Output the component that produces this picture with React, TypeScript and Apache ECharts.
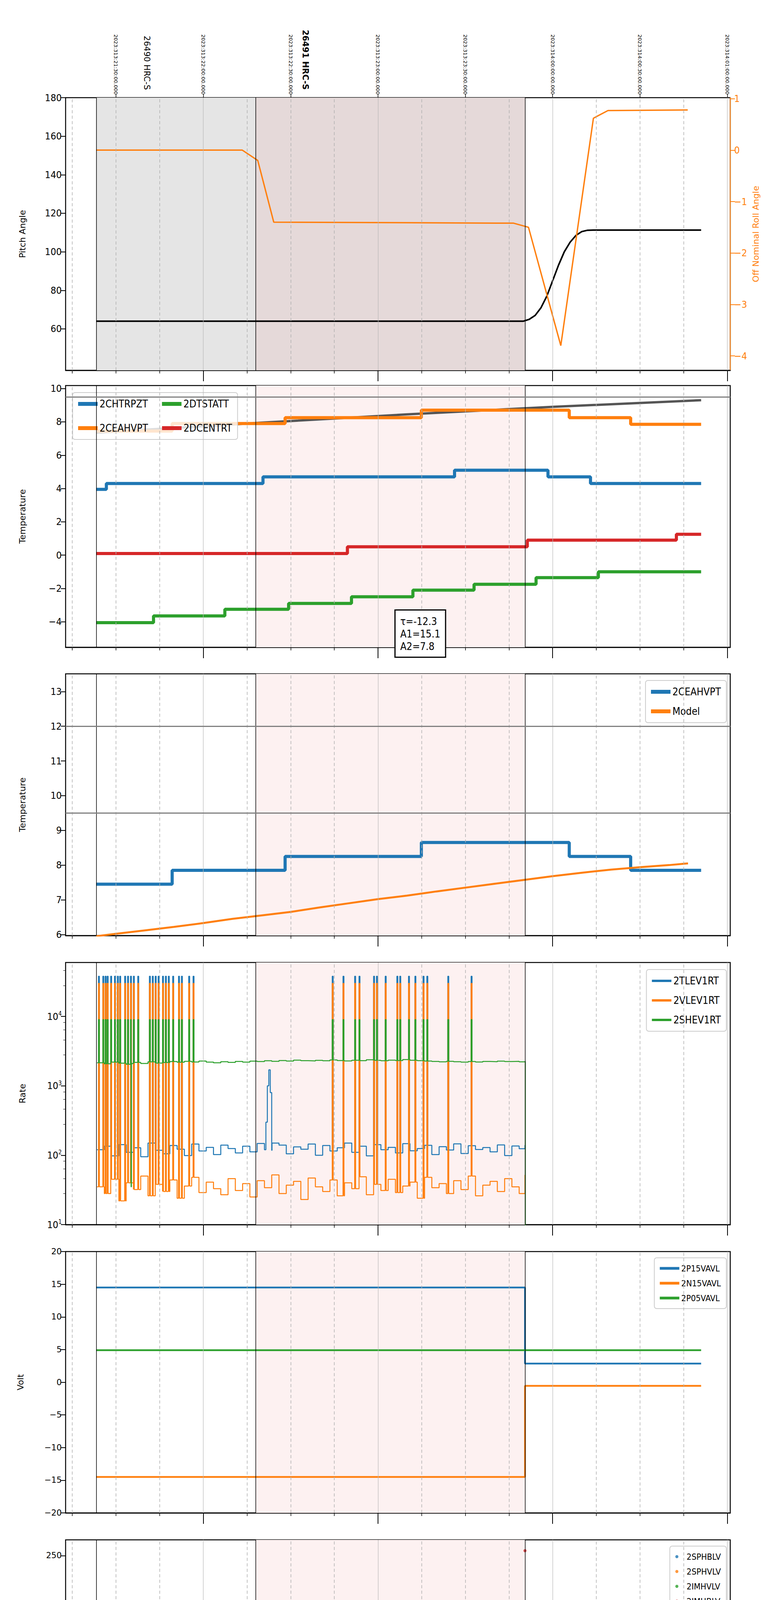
import { useEffect, useRef } from "react";
import * as echarts from "echarts";

// x is minutes after 16:00 local (2023-11-09)
const XMIN = 12.7;
const XMAX = 241;
const T_START = 23.2;
const T_OBS2 = 78;
const T_END = 170.5;

const MINOR_TICKS = [15, 30, 45, 75, 90, 105, 135, 150, 165, 195, 210, 225];
const HOUR_TICKS = [60, 120, 180, 240];
const HOUR_LABELS = ["17h", "18h", "19h", "20h"];
const DATE_TICKS = [30, 60, 90, 120, 150, 180, 210, 240];
const DATE_LABELS = [
  "2023:313:21:30:00.000", "2023:313:22:00:00.000", "2023:313:22:30:00.000", "2023:313:23:00:00.000",
  "2023:313:23:30:00.000", "2023:314:00:00:00.000", "2023:314:00:30:00.000", "2023:314:01:00:00.000",
];
const OBS_TICKS = [40.6, 95];
const OBS_LABELS = ["26490 HRC-S", "26491 HRC-S"];

// panel 1
const PITCH_T = [23.2, 170, 172, 174, 176, 178, 180, 182, 184, 186, 188, 190, 192, 194, 231];
const PITCH_V = [64, 64, 65, 67, 71, 77, 85, 93, 100, 105, 108.5, 110.5, 111.2, 111.3, 111.3];
const ROLL_T = [23.2, 73.4, 78.7, 84.2, 166.6, 171.7, 182.8, 194, 199, 226.4];
const ROLL_V = [0, 0, -0.2, -1.4, -1.42, -1.5, -3.8, 0.62, 0.77, 0.78];

// panel 2
const HTR_T = [23.2, 26.7, 80.5, 146.3, 178.4, 193, 231];
const HTR_V = [3.95, 4.3, 4.7, 5.1, 4.7, 4.3, 4.3];
const CEA_T = [23.2, 49.3, 88.1, 134.9, 185.7, 206.8, 231];
const CEA_V = [7.45, 7.9, 8.25, 8.7, 8.25, 7.85, 7.85];
const DTS_T = [23.2, 42.9, 67.4, 89.3, 110.9, 132, 153, 174.3, 195.7, 231];
const DTS_V = [-4.05, -3.65, -3.25, -2.9, -2.5, -2.1, -1.75, -1.35, -1.0, -1.0];
const DCE_T = [23.2, 109.5, 171.3, 222.5, 231];
const DCE_V = [0.1, 0.5, 0.9, 1.25, 1.25];
const FIT_T = [23.2, 80, 130, 180, 231];
const FIT_V = [7.35, 7.95, 8.45, 8.9, 9.3];

// panel 3
const CEA3_V = [7.45, 7.85, 8.25, 8.65, 8.25, 7.85, 7.85];
const MODEL_T = [23.2, 30, 40, 50, 60, 70, 80, 90, 100, 110, 120, 130, 140, 150, 160, 170, 180, 190, 200, 210, 220, 226.5];
const MODEL_V = [5.95, 6.02, 6.12, 6.22, 6.33, 6.45, 6.55, 6.65, 6.78, 6.9, 7.02, 7.12, 7.24, 7.35, 7.46, 7.57, 7.68, 7.78, 7.87, 7.94, 8.0, 8.05];

// glitch times (minutes)
const G1 = [24, 25.5, 26.3, 27, 28.2, 29.5, 30.5, 31.3, 33, 34, 35, 36, 37.5, 41.5, 42.5, 43.5, 44.5, 46, 47, 48, 49.5, 51.5, 52.5, 55, 56.5];
const G2 = [104.3, 108, 112, 113.5, 118.5, 119.5, 122.5, 126.5, 127.5, 130.5, 132.7, 135.5, 136.8, 144, 152];

// panel 4 (rates, sampled every 2.5 min from 23.5)
const RATE_T0 = 23.5;
const RATE_DT = 2.5;
const TLEV_V = [120, 135, 98, 142, 110, 128, 95, 150, 118, 105, 138, 122, 99, 145, 115, 130, 102, 140, 125, 108,
  135, 112, 148, 120, 118, 140, 105, 132, 122, 145, 100, 138, 115, 128, 150, 110, 135, 98, 142, 120,
  130, 108, 147, 116, 125, 139, 102, 133, 119, 146, 106, 137, 121, 129, 112, 141, 99, 136, 124, 140];
const VLEV_V = [35, 28, 45, 22, 40, 32, 50, 26, 38, 30, 44, 24, 36, 48, 29, 41, 33, 27, 46, 31,
  39, 25, 43, 34, 52, 28, 37, 42, 23, 47, 35, 30, 44, 26, 40, 33, 49, 27, 38, 31,
  45, 29, 36, 41, 24, 48, 34, 39, 28, 43, 32, 50, 26, 37, 42, 30, 46, 35, 28, 52];
const SHEV_V = [2150, 2080, 2200, 2120, 2050, 2180, 2100, 2220, 2130, 2170, 2240, 2190, 2260, 2210, 2280, 2200, 2150, 2230, 2180, 2250,
  2200, 2270, 2240, 2300, 2260, 2320, 2280, 2350, 2310, 2290, 2330, 2300, 2360, 2320, 2290, 2340, 2310, 2380, 2330, 2300,
  2350, 2320, 2390, 2340, 2310, 2280, 2250, 2220, 2260, 2230, 2200, 2240, 2210, 2250, 2230, 2270, 2240, 2260, 2220, 2250];
const TLEV_BUMP_T = [81.5, 82.0, 82.5, 83.0, 83.6];
const TLEV_BUMP_V = [300, 1000, 1700, 800, 150];

// panel 5
const P15_T = [23.2, 170.5, 231];
const P15_V = [14.5, 2.85, 2.85];
const N15_V = [-14.5, -0.55, -0.55];
const P05_T = [23.2, 231];
const P05_V = [4.9, 4.9];

// panel 6
const SPHBLV_T = [23.2, 170.5];
const SPHBLV_V = [77.5, 77.5];
const SPHVLV_V = [70.5, 70.5];
const SPHVLV_HI_T = [25, 27.2, 28.4, 29.4, 30.4, 31.3, 33.9, 34.7, 35.2, 112.1, 113.5, 119, 126.7, 127.2, 137.8, 138.7];
const SPHVLV_HI = 127;
const IMHBLV_T = [170.5];
const IMHBLV_V = [255];

// panel 7
const SPIN_T = [23.2, 124.3, 170.5];
const SPIN_V = [3.25, 3.65, 3.65];
const SPHV_T = [23.2, 27.5, 41, 56.6, 79.6, 104.6, 136.1, 170.5];
const SPHV_V = [18.1, 18.35, 18.6, 19.0, 19.25, 19.55, 19.85, 19.85];
const IMIN_T = [23.2, 113.8, 170.5];
const IMIN_V = [1.05, 1.45, 1.45];
const IMHV_T = [23.2, 40.2, 66, 97.7, 132.3, 170.5];
const IMHV_V = [15.3, 15.55, 15.85, 16.1, 16.35, 16.35];

// panel 8
const FHT_T = [23.2, 24, 34.4, 45.5, 57.3, 69.3, 81.5, 94.3, 107, 120, 133.5, 147.4, 162.1, 198.4, 214.5, 231];
const FHT_V = [-5.6, -5.2, -4.85, -4.45, -4.05, -3.65, -3.25, -2.9, -2.5, -2.1, -1.75, -1.4, -1.0, -1.35, -1.75, -1.75];
const FRA_T = [23.2, 30.1, 42.6, 55.8, 69.5, 83.2, 95.3, 108.7, 123, 137.8, 152.9, 169.1, 189.7, 202.2, 220.7, 231];
const FRA_V = [-8.0, -7.6, -7.2, -6.8, -6.4, -6.0, -5.6, -5.2, -4.8, -4.45, -4.05, -3.65, -4.05, -4.45, -4.85, -4.85];
const FEP_T = [23.2, 33, 48.4, 65.5, 79.2, 93.4, 108, 123.4, 139.2, 155.9, 170.5];
const FEP_V = [-2.2, -1.8, -1.4, -1.0, -0.6, -0.2, 0.25, 0.65, 1.1, 1.5, 1.9];
const FE0_T = [23.2, 30.1, 39, 47.9, 57.3, 66.7, 76.7, 87.5, 97.2, 107.5, 117.8, 128.9, 140.4, 151.5, 163.1, 170.5];
const FE0_V = [-2.45, -2.1, -1.8, -1.45, -1.1, -0.8, -0.45, -0.2, 0.15, 0.45, 0.75, 1.1, 1.4, 1.75, 2.05, 2.05];

const C = { blue: "#1f77b4", orange: "#ff7f0e", green: "#2ca02c", red: "#d62728" };
const NARROW = '"Liberation Sans Narrow", "DejaVu Sans Condensed", "Roboto", sans-serif';
const WIDE = '"DejaVu Sans", sans-serif';

const TOPS = [250, 987, 1725, 2464, 3204, 3942, 4682, 5420];
const HEIGHTS = [698, 670, 670, 671, 669, 670, 669, 670];

type P = [number, number];
const pts = (t: number[], v: number[]): P[] => t.map((x, i) => [x, v[i]]);
const stepAt = (t: number[], v: number[], x: number) => {
  let val = v[0];
  for (let i = 0; i < t.length; i++) if (t[i] <= x) val = v[i];
  return val;
};
// Step series with short excursions to `level` at glitch times.
function spiky(t: number[], v: number[], glitches: number[], level: number, w = 0.4, extra: P[] = []): P[] {
  const out: P[] = pts(t, v);
  for (const g of glitches) {
    out.push([g, level], [g + w, stepAt(t, v, g + w)]);
  }
  out.push(...extra);
  return out.sort((a, b) => a[0] - b[0]);
}
const rateSeries = (vals: number[], glitches: number[], level: number, extra: P[] = []): P[] => {
  const t = vals.map((_, i) => RATE_T0 + i * RATE_DT);
  t[t.length - 1] = T_END;
  return spiky(t, vals, glitches, level, 0.3, extra);
};

export default function App() {
  const ref = useRef<HTMLDivElement | null>(null);

  useEffect(() => {
    if (!ref.current) return;
    const chart = echarts.init(ref.current, undefined, { renderer: "svg" });

    const grids = TOPS.map((top, i) => ({
      left: 168, width: 1702, top, height: HEIGHTS[i], show: true,
      borderColor: "#000", borderWidth: 2.5, backgroundColor: "transparent",
    }));

    const xAxis: any[] = [];
    const yAxis: any[] = [];
    const series: any[] = [];
    const legend: any[] = [];
    const last = TOPS.length - 1;

    TOPS.forEach((_, i) => {
      const isLast = i === last;
      xAxis.push({
        type: "value", gridIndex: i, min: XMIN, max: XMAX, position: "bottom",
        axisLine: { show: true, onZero: false, lineStyle: { color: "#000", width: 2.5 } },
        axisTick: { show: true, customValues: MINOR_TICKS, length: 8, lineStyle: { color: "#000", width: 1.5 } },
        axisLabel: isLast
          ? { show: true, customValues: MINOR_TICKS, formatter: (v: number) => String(v % 60), fontFamily: NARROW, fontSize: 18, color: "#000", margin: 10 }
          : { show: false },
        splitLine: { show: false },
      });
      xAxis.push({
        type: "value", gridIndex: i, min: XMIN, max: XMAX, position: "bottom",
        axisLine: { show: false, onZero: false },
        axisTick: { show: true, customValues: HOUR_TICKS, length: 28, lineStyle: { color: "#000", width: 2 } },
        axisLabel: isLast
          ? { show: true, customValues: HOUR_TICKS, formatter: (v: number) => HOUR_LABELS[HOUR_TICKS.indexOf(v)] ?? "", fontFamily: NARROW, fontSize: 28, color: "#000", margin: 36 }
          : { show: false },
        splitLine: { show: false },
        name: isLast ? "2023-11-09 (313)" : "", nameLocation: "middle", nameGap: 84,
        nameTextStyle: { fontFamily: NARROW, fontSize: 28, color: "#000" },
      });
    });
    // top axes of first panel
    xAxis.push({
      type: "value", gridIndex: 0, min: XMIN, max: XMAX, position: "top",
      axisLine: { show: false, onZero: false },
      axisTick: { show: true, customValues: DATE_TICKS, length: 10, lineStyle: { color: "#000", width: 1.5 } },
      axisLabel: { show: true, customValues: DATE_TICKS, rotate: 90, formatter: (v: number) => DATE_LABELS[DATE_TICKS.indexOf(v)] ?? "", fontFamily: WIDE, fontSize: 13, color: "#000", margin: 8 },
      splitLine: { show: false },
    });
    xAxis.push({
      type: "value", gridIndex: 0, min: XMIN, max: XMAX, position: "top",
      axisLine: { show: false, onZero: false }, axisTick: { show: false },
      axisLabel: {
        show: true, customValues: OBS_TICKS, rotate: 90, margin: 20,
        formatter: (v: number) => (OBS_TICKS.indexOf(v) === 1 ? `{b|${OBS_LABELS[1]}}` : `{n|${OBS_LABELS[0]}}`),
        rich: { n: { fontFamily: WIDE, fontSize: 21, color: "#000" }, b: { fontFamily: WIDE, fontSize: 21, fontWeight: "bold", color: "#000" } },
      },
      splitLine: { show: false },
    });
    const xMain = (i: number) => i * 2;

    const yBase = (i: number, name: string, min: number, max: number, ticks: number[], opts: any = {}) => ({
      type: "value", gridIndex: i, min, max, position: "left",
      name, nameLocation: "middle", nameGap: opts.nameGap ?? 100,
      nameTextStyle: { fontFamily: WIDE, fontSize: 22, color: opts.color ?? "#000" },
      axisLine: { show: true, onZero: false, lineStyle: { color: opts.color ?? "#000", width: 2 } },
      axisTick: { show: true, customValues: ticks, length: 12, lineStyle: { color: opts.color ?? "#000", width: 2 } },
      axisLabel: {
        show: true, customValues: ticks, fontFamily: opts.font ?? NARROW, fontSize: opts.fontSize ?? 25,
        color: opts.color ?? "#000", margin: 10,
        formatter: opts.formatter ?? ((v: number) => String(v).replace("-", "−")),
      },
      splitLine: { show: false },
    });

    yAxis.push(yBase(0, "Pitch Angle", 38.5, 180, [60, 80, 100, 120, 140, 160, 180]));
    yAxis.push({
      ...yBase(0, "Off Nominal Roll Angle", -4.28, 1.02, [-4, -3, -2, -1, 0, 1], { color: C.orange, nameGap: 46 }),
      position: "right",
    });
    const rateAxis: any = {
      ...yBase(3, "Rate", 10, 60000, [10, 100, 1000, 10000], {
        formatter: (v: number) => `{b|10}{s|${Math.round(Math.log10(v))}}`,
      }),
      type: "log", logBase: 10,
      minorTick: { show: true, length: 6, lineStyle: { color: "#000" } },
    };
    rateAxis.axisLabel.rich = {
      b: { fontFamily: NARROW, fontSize: 25, color: "#000" },
      s: { fontFamily: NARROW, fontSize: 15, color: "#000", verticalAlign: "top", padding: [0, 0, 14, 0] },
    };
    yAxis.push(yBase(1, "Temperature", -5.53, 10.18, [-4, -2, 0, 2, 4, 6, 8, 10]));
    yAxis.push(yBase(2, "Temperature", 5.97, 13.51, [6, 7, 8, 9, 10, 11, 12, 13]));
    yAxis.push(rateAxis);
    yAxis.push(yBase(4, "Volt", -20, 20, [-20, -15, -10, -5, 0, 5, 10, 15, 20], { font: WIDE, fontSize: 21, nameGap: 105 }));
    yAxis.push(yBase(5, "HV Monitor", 0, 266, [0, 50, 100, 150, 200, 250], { font: WIDE, fontSize: 21, nameGap: 100 }));
    yAxis.push(yBase(6, "Detector Temp", -0.44, 21.09, [0, 2.5, 5, 7.5, 10, 12.5, 15, 17.5, 20], { formatter: (v: number) => v.toFixed(1), nameGap: 112 }));
    yAxis.push(yBase(7, "FEA Temp", -8.27, 2.61, [-8, -6, -4, -2, 0, 2]));
    const yIdx = [0, 2, 3, 4, 5, 6, 7, 8];

    // background: shading + vertical grid lines
    TOPS.forEach((_, i) => {
      const dashed = MINOR_TICKS.map((x) => ({ xAxis: x, lineStyle: { color: "#b0b0b0", type: [8, 6], width: 1.5 } }));
      const hours = HOUR_TICKS.map((x) => ({ xAxis: x, lineStyle: { color: "#b8b8b8", type: "solid", width: 1.2 } }));
      const marks = [T_START, T_OBS2, T_END].map((x) => ({ xAxis: x, lineStyle: { color: "#000", type: "solid", width: 1.5 } }));
      const hLines: any[] = [];
      if (i === 1) hLines.push({ yAxis: 9.5 });
      if (i === 2) hLines.push({ yAxis: 12 }, { yAxis: 9.5 });
      series.push({
        type: "line", xAxisIndex: xMain(i), yAxisIndex: yIdx[i], data: [], silent: true, z: 1,
        markArea: {
          silent: true,
          data: i === 0
            ? [[{ xAxis: T_START, itemStyle: { color: "#e5e5e5" } }, { xAxis: T_OBS2 }], [{ xAxis: T_OBS2, itemStyle: { color: "#e5d9d9" } }, { xAxis: T_END }]]
            : [[{ xAxis: T_OBS2, itemStyle: { color: "#fdf1f1" } }, { xAxis: T_END }]],
        },
        markLine: {
          silent: true, symbol: "none", label: { show: false },
          data: [...dashed, ...hours, ...marks, ...hLines.map((h) => ({ ...h, lineStyle: { color: "#808080", type: "solid", width: 3 } }))],
        },
      });
    });

    const line = (i: number, name: string, color: string, data: P[], width = 8, opts: any = {}) => ({
      type: "line", name, xAxisIndex: xMain(i), yAxisIndex: opts.y ?? yIdx[i], data, step: opts.step ?? "end",
      showSymbol: false, symbol: "none", z: opts.z ?? 3, clip: true,
      lineStyle: { color, width }, itemStyle: { color },
    });

    // panel 1
    series.push(line(0, "Pitch", "#000", pts(PITCH_T, PITCH_V), 4, { step: false }));
    series.push(line(0, "Roll", C.orange, pts(ROLL_T, ROLL_V), 3.5, { step: false, y: 1 }));

    // panel 2
    series.push(line(1, "fit", "#555", pts(FIT_T, FIT_V), 6, { step: false }));
    series.push(line(1, "2CHTRPZT", C.blue, pts(HTR_T, HTR_V)));
    series.push(line(1, "2CEAHVPT", C.orange, pts(CEA_T, CEA_V)));
    series.push(line(1, "2DTSTATT", C.green, pts(DTS_T, DTS_V)));
    series.push(line(1, "2DCENTRT", C.red, pts(DCE_T, DCE_V)));

    // panel 3 (names suffixed with "#3" to keep legend colours per panel)
    series.push(line(2, "2CEAHVPT#3", C.blue, pts(CEA_T, CEA3_V)));
    series.push(line(2, "Model#3", C.orange, pts(MODEL_T, MODEL_V), 5, { step: false }));

    // panel 4
    series.push(line(3, "2TLEV1RT", C.blue, rateSeries(TLEV_V, [...G1, ...G2], 38000, pts(TLEV_BUMP_T, TLEV_BUMP_V)), 2.5));
    series.push(line(3, "2VLEV1RT", C.orange, rateSeries(VLEV_V, [...G1, ...G2], 30000), 2.5));
    series.push(line(3, "2SHEV1RT", C.green, rateSeries(SHEV_V, [...G1, ...G2], 9000, [[35.2, 35], [35.4, 2100], [T_END, 2250], [T_END + 0.1, 5]]), 2.5));

    // panel 5
    series.push(line(4, "2P15VAVL", C.blue, pts(P15_T, P15_V), 4.5));
    series.push(line(4, "2N15VAVL", C.orange, pts(P15_T, N15_V), 4.5));
    series.push(line(4, "2P05VAVL", C.green, pts(P05_T, P05_V), 4.5));

    // panel 6
    const sc = (name: string, color: string, data: P[]) => ({
      type: "scatter", name, xAxisIndex: xMain(5), yAxisIndex: yIdx[5], data, symbolSize: 8, z: 4,
      itemStyle: { color },
    });
    series.push(sc("2SPHBLV", C.blue, []));
    series.push(sc("2SPHVLV", C.orange, SPHVLV_HI_T.map((t) => [t, SPHVLV_HI] as P)));
    series.push(sc("2IMHVLV", C.green, []));
    series.push(sc("2IMHBLV", C.red, pts(IMHBLV_T, IMHBLV_V)));
    series.push(line(5, "2SPHBLV", C.blue, pts(SPHBLV_T, SPHBLV_V), 12));
    series.push(line(5, "2SPHVLV", C.orange, pts(SPHBLV_T, SPHVLV_V), 7));

    // panel 7
    series.push(line(6, "2SPINATM", C.blue, spiky(SPIN_T, SPIN_V, [...G1, 104.3, 112, 113.5, 118.5, 119.5, 126.5, 130.5, 132.7, 135.5, 136.8, 144, 152], -1)));
    series.push(line(6, "2SPHVATM", C.orange, spiky(SPHV_T, SPHV_V, [...G1, ...G2], 10.6)));
    series.push(line(6, "2IMINATM", C.green, spiky(IMIN_T, IMIN_V, [...G1, ...G2], 3.4)));
    series.push(line(6, "2IMHVATM", C.red, spiky(IMHV_T, IMHV_V, [...G1, ...G2], 18.4, 0.4, [[T_END, 23], [T_END + 0.2, -2]])));

    // panel 8
    series.push(line(7, "2FHTRMZT", C.blue, pts(FHT_T, FHT_V)));
    series.push(line(7, "2FRADPYT", C.orange, pts(FRA_T, FRA_V)));
    series.push(line(7, "2FEPRATM", C.green, spiky(FEP_T, FEP_V, [...G1, ...G2], -4.65)));
    series.push(line(7, "2FE00ATM", C.red, spiky(FE0_T, FE0_V, [...G1, ...G2], 3.5, 0.4, [[35.2, -9], [35.5, -2.1], [T_END, 3.5], [T_END + 0.2, -9]])));

    const legBox = (top: number, names: string[], opts: any = {}) => ({
      top, right: opts.right ?? 140, left: opts.left, width: opts.width, orient: opts.orient ?? "vertical",
      data: names.map((n) => ({ name: n, icon: opts.icon ?? "rect" })),
      formatter: (n: string) => n.split("#")[0],
      itemWidth: opts.itemWidth ?? 50, itemHeight: opts.itemHeight ?? 10, itemGap: opts.itemGap ?? 24,
      textStyle: { fontFamily: opts.font ?? NARROW, fontSize: opts.fontSize ?? 26, color: "#000" },
      backgroundColor: "rgba(255,255,255,0.8)", borderColor: "#cccccc", borderWidth: 2, borderRadius: 6,
      padding: [16, 14, 16, 14], selectedMode: false,
    });
    legend.push(legBox(1005, ["2CHTRPZT", "2DTSTATT", "2CEAHVPT", "2DCENTRT"], { orient: "horizontal", left: 186, right: undefined, width: 500, itemGap: 36 }));
    legend.push(legBox(1742, ["2CEAHVPT#3", "Model#3"]));
    legend.push(legBox(2482, ["2TLEV1RT", "2VLEV1RT", "2SHEV1RT"], { itemHeight: 6 }));
    legend.push(legBox(3220, ["2P15VAVL", "2N15VAVL", "2P05VAVL"], { fontSize: 22, itemGap: 16, itemHeight: 7 }));
    legend.push(legBox(3958, ["2SPHBLV", "2SPHVLV", "2IMHVLV", "2IMHBLV"], { fontSize: 22, icon: "circle", itemWidth: 40, itemHeight: 8, itemGap: 16 }));
    legend.push(legBox(4700, ["2SPINATM", "2SPHVATM", "2IMINATM", "2IMHVATM"]));
    legend.push(legBox(5437, ["2FHTRMZT", "2FRADPYT", "2FEPRATM", "2FE00ATM"]));

    chart.setOption({
      animation: false,
      backgroundColor: "#fff",
      grid: grids,
      xAxis, yAxis, series, legend,
      graphic: [{
        type: "text", left: 1010, top: 1560, z: 100,
        style: {
          text: "τ=-12.3\nA1=15.1\nA2=7.8", fontFamily: NARROW, fontSize: 26, lineHeight: 32, fill: "#000",
          backgroundColor: "#fff", borderColor: "#000", borderWidth: 3, padding: [12, 12, 10, 12],
        },
      }],
    });
    return () => chart.dispose();
  }, []);

  return <div ref={ref} style={{ position: "absolute", left: 0, top: 0, width: 2000, height: 6200 }} />;
}
